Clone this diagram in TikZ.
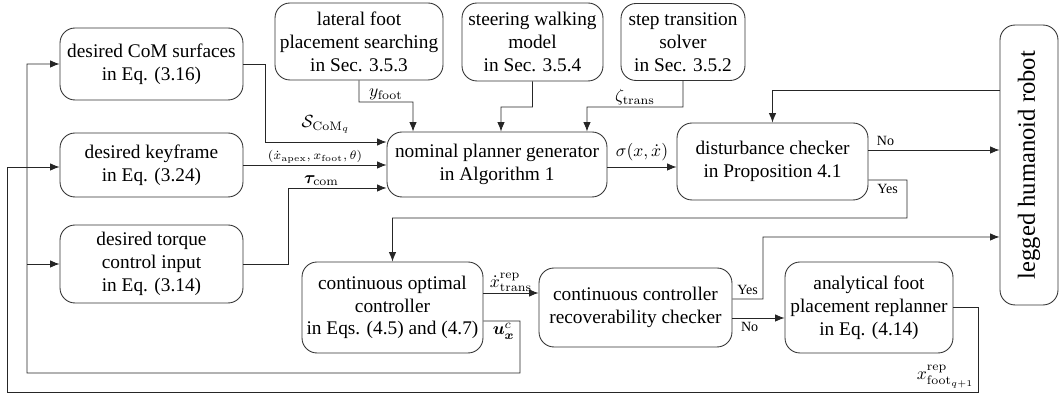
\documentclass[tikz,border=0pt]{standalone}
\usepackage{amsmath}
\usepackage{bm}
\usepackage[no-math]{fontspec}
\setmainfont{Liberation Serif}
\usetikzlibrary{arrows.meta,positioning}

\tikzset{
  blk/.style={draw=black!80, line width=0.5pt, rounded corners=0.3cm, align=center,
    inner sep=2pt, font=\fontsize{11}{13}\selectfont},
  arr/.style={draw=black!85, line width=0.5pt, -{Latex[length=1.9mm,width=1.5mm]}},
  lbl/.style={font=\footnotesize, inner sep=2pt},
}

\begin{document}
\begin{tikzpicture}[x=0.02cm, y=-0.02cm]
  \useasboundingbox (0,0) rectangle (1059,394);

  % input blocks
  \node[blk, minimum width=3.66cm, minimum height=1.44cm] (csurf) at (151.5,64) {desired CoM surfaces\\in Eq. (3.16)};
  \node[blk, minimum width=3.66cm, minimum height=1.28cm] (key) at (151.5,165) {desired keyframe\\in Eq. (3.24)};
  \node[blk, minimum width=3.66cm, minimum height=1.56cm] (torque) at (151.5,264) {desired torque\\control input\\in Eq. (3.14)};
  \node[blk, minimum width=3.36cm, minimum height=1.54cm] (lat) at (359,41.5) {lateral foot\\placement searching\\in Sec. 3.5.3};
  \node[blk, minimum width=2.82cm, minimum height=1.56cm] (steer) at (532.5,42) {steering walking\\model\\in Sec. 3.5.4};
  \node[blk, minimum width=2.48cm, minimum height=1.54cm] (step) at (683,42) {step transition\\solver\\in Sec. 3.5.2};

  % planner and checkers
  \node[blk, minimum width=4.4cm, minimum height=1.3cm] (nom) at (497,164.5) {nominal planner generator\\in Algorithm 1};
  \node[blk, minimum width=3.82cm, minimum height=1.54cm] (dist) at (772.5,161.5) {disturbance checker\\in Proposition 4.1};
  \node[blk, minimum width=1.16cm, minimum height=5.6cm] (robot) at (1029,165) {\rotatebox{90}{\fontsize{14}{16}\selectfont legged humanoid robot}};
  \node[blk, minimum width=3.62cm, minimum height=1.82cm] (copt) at (392.5,307.5) {continuous optimal\\controller\\in Eqs. (4.5) and (4.7)};
  \node[blk, minimum width=3.86cm, minimum height=1.58cm] (rec) at (635.5,307.5) {continuous controller\\recoverability checker};
  \node[blk, minimum width=3.36cm, minimum height=1.82cm] (analyt) at (869,307.5) {analytical foot\\placement replanner\\in Eq. (4.14)};

  % inputs to the planner
  \draw[arr] (csurf.east) -- (265,64) |- node[pos=0.75, above, yshift=0.04cm] {$\mathcal{S}_{\mathrm{CoM}_q}$} ([yshift=0.45cm]nom.west);
  \draw[arr] (key.east) -- node[midway, above, inner sep=1pt] {\scriptsize$(\dot{x}_{\mathrm{apex}}, x_{\mathrm{foot}}, \theta)$} (key.east -| nom.west);
  \draw[arr] (torque.east) -- (288,264) |- node[pos=0.67, above, inner sep=1pt] {$\bm{\tau}_{\mathrm{com}}$} ([yshift=-0.47cm]nom.west);
  \draw[arr] (lat.south) |- node[pos=0.75, above, inner sep=1pt] {$y_{\mathrm{foot}}$} (413,102) -- ([xshift=-1.68cm]nom.north);
  \draw[arr] (steer.south) |- (501,107) -- ([xshift=0.08cm]nom.north);
  \draw[arr] (step.south) |- node[pos=0.75, above, inner sep=1pt] {$\zeta_{\mathrm{trans}}$} (587,107) -- ([xshift=1.8cm]nom.north);

  % planner to checker
  \draw[arr] ([yshift=-0.05cm]nom.east) -- node[midway, above] {$\sigma(x,\dot{x})$} ([yshift=-0.05cm]nom.east -| dist.west);
  \draw[arr] ([yshift=1.5cm]robot.west) -| (dist.north);
  \coordinate (noout) at ([yshift=0.23cm]dist.east);
  \draw[arr] (noout) -- node[pos=0.13, above, lbl] {No} (noout -| robot.west);
  \draw[arr] ([yshift=-0.37cm]dist.east) -- node[midway, below, lbl] {Yes} (907,180) -- (907,218) -| (copt.north);

  % recovery branch
  \coordinate (xout) at ([yshift=0.29cm]copt.east);
  \draw[arr] (xout) -- node[midway, above, inner sep=0.5pt] {$\dot{x}^{\mathrm{rep}}_{\mathrm{trans}}$} (xout -| rec.west);
  \draw[arr] ([yshift=0.17cm]rec.east) -- node[midway, above, lbl] {Yes} (763,299) |- ([yshift=-1.44cm]robot.west);
  \coordinate (recno) at ([yshift=-0.21cm]rec.east);
  \draw[arr] (recno) -- node[pos=0.33, below, lbl] {No} (recno -| analyt.west);

  % feedback loops
  \coordinate (uleft) at (27,373);
  \draw[arr] ([yshift=-0.27cm]copt.east) -- node[midway, below, inner sep=1pt, xshift=0.04cm] {$\bm{u}^{c}_{\bm{x}}$} (520,321) -- (520,373) -- (uleft) |- (csurf.west);
  \draw[arr] (uleft |- torque.west) -- (torque.west);
  \draw[arr] (analyt.east) -- (978,307.5) -- (978,392) node[above left, inner sep=2pt] {$x^{\mathrm{rep}}_{\mathrm{foot}_{q+1}}$} -- (7,392) |- ([yshift=-0.04cm]key.west);
\end{tikzpicture}
\end{document}
